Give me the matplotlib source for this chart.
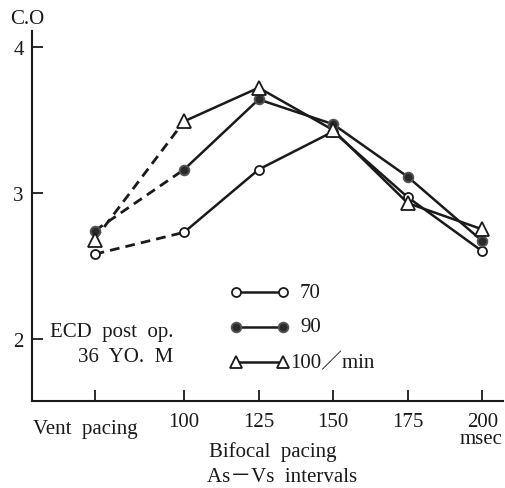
import matplotlib
matplotlib.use("Agg")
import matplotlib.pyplot as plt

plt.rcParams['font.family'] = ['Liberation Serif', 'Noto Sans CJK JP', 'DejaVu Serif']

categories = ["Vent pacing", "100", "125", "150", "175", "200"]
x_msec = [70, 100, 125, 150, 175, 200]  # Vent pacing placed left of 100
co_70 = [2.58, 2.73, 3.16, 3.42, 2.97, 2.60]
co_90 = [2.74, 3.16, 3.64, 3.47, 3.11, 2.67]
co_100 = [2.68, 3.49, 3.72, 3.43, 2.93, 2.75]
series_labels = ["70", "90", "100／min"]

fig = plt.figure(figsize=(5.05, 4.89), dpi=100)
ax = fig.add_axes([0.0634, 0.178, 0.933, 0.757])
ax.set_xlim(49, 207)
ax.set_ylim(1.575, 4.11)

c = '#1a1a1a'
styles = [
    dict(marker='o', ms=6.5, mfc='white', mec=c, mew=1.3),
    dict(marker='o', ms=7, mfc='#2a2a2a', mec='#555555', mew=1.3),
    dict(marker='^', ms=10, mfc='white', mec=c, mew=1.3),
]
for vals, st in zip([co_70, co_90, co_100], styles):
    ax.plot(x_msec[:2], vals[:2], color=c, lw=2.0, ls=(0, (3.5, 2.2)), zorder=2)
    ax.plot(x_msec[1:], vals[1:], color=c, lw=1.8, zorder=2)
    ax.plot(x_msec, vals, ls='none', zorder=3, **st)

for s in ['top', 'right']:
    ax.spines[s].set_visible(False)
for s in ['left', 'bottom']:
    ax.spines[s].set_linewidth(1.5)
    ax.spines[s].set_color(c)

fs = 15
ax.set_yticks([2, 3, 4])
ax.set_yticklabels(['2', '3', '4'], fontsize=fs)
ax.tick_params(axis='y', direction='in', length=8, width=1.3, pad=6, colors=c)
ax.set_xticks(x_msec)
ax.set_xticklabels([''] + categories[1:], fontsize=fs)
ax.tick_params(axis='x', direction='in', length=8, width=1.3, pad=8, colors=c)

# Axis texts
fig.text(27 / 505, 1 - 20 / 489, 'C.O', fontsize=fs, ha='center', va='center', color=c)
fig.text(33 / 505, 1 - 430 / 489, 'Vent  pacing', fontsize=fs, ha='left', va='center', color=c)
fig.text(273 / 505, 1 - 452 / 489, 'Bifocal  pacing', fontsize=fs, ha='center', va='center', color=c)
fig.text(282 / 505, 1 - 478 / 489, 'As－Vs  intervals', fontsize=fs, ha='center', va='center', color=c)
fig.text(481 / 505, 1 - 440 / 489, 'msec', fontsize=fs, ha='center', va='center', color=c)
fig.text(50 / 505, 1 - 332 / 489, 'ECD  post  op.', fontsize=fs, ha='left', va='center', color=c)
fig.text(78 / 505, 1 - 357 / 489, '36  YO.  M', fontsize=fs, ha='left', va='center', color=c)

# Legend drawn manually
leg_y = [293, 328, 363]
for yy, st, lab in zip(leg_y, styles, series_labels):
    fy = 1 - yy / 489
    fig.add_artist(matplotlib.lines.Line2D([236 / 505, 283 / 505], [fy, fy], color=c, lw=1.8,
                                           transform=fig.transFigure))
    st2 = dict(st)
    if st2['marker'] == '^':
        st2['ms'] = 8
    fig.add_artist(matplotlib.lines.Line2D([236 / 505, 283 / 505], [fy, fy], ls='none',
                                           transform=fig.transFigure, **st2))
    fig.text(300 / 505 if lab != series_labels[2] else 290 / 505, fy, lab, fontsize=fs,
             ha='left', va='center', color=c)

fig.savefig('out.png', dpi=100)
